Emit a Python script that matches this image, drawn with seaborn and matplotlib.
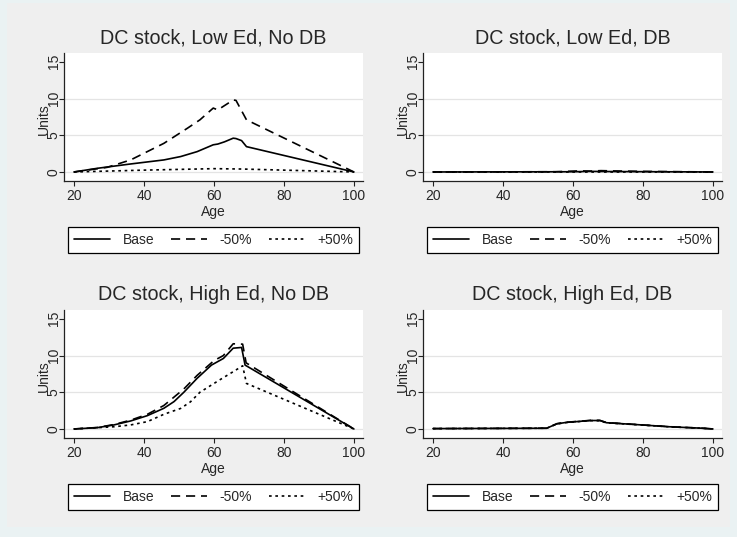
import matplotlib
matplotlib.use("Agg")
import matplotlib.pyplot as plt
import seaborn as sns
import pandas as pd

# ---- data: DC stock by age for three scenarios ----
series_names = ["Base", "-50%", "+50%"]
panel_titles = [
    "DC stock, Low Ed, No DB",
    "DC stock, Low Ed, DB",
    "DC stock, High Ed, No DB",
    "DC stock, High Ed, DB",
]

# Low Ed, No DB
low_nodb_base_age = [20, 26.7, 36.2, 45.7, 50.5, 55.2, 59.8, 61.1, 63, 65.5, 66.3, 67.9, 69.3, 100]
low_nodb_base_val = [0, 0.5, 1.09, 1.64, 2.1, 2.77, 3.7, 3.8, 4.1, 4.6, 4.55, 4.27, 3.45, 0]
low_nodb_m50_age = [20, 29.5, 36.2, 45.7, 52.4, 56, 59.8, 61.1, 65.5, 66.3, 69.3, 100]
low_nodb_m50_val = [0, 0.63, 1.64, 3.9, 5.95, 7.1, 8.7, 8.45, 9.8, 9.75, 7.1, 0]
low_nodb_p50_age = [20, 40, 60, 68, 100]
low_nodb_p50_val = [0, 0.25, 0.45, 0.4, 0]

# Low Ed, DB
low_db_base_age = [20, 60, 65, 70, 100]
low_db_base_val = [0, 0.03, 0.08, 0.06, 0]
low_db_m50_age = [20, 55, 62, 65, 68, 72, 80, 100]
low_db_m50_val = [0, 0.03, 0.15, 0.12, 0.18, 0.14, 0.08, 0]
low_db_p50_age = [20, 100]
low_db_p50_val = [0, 0]

# High Ed, No DB
high_nodb_base_age = [20, 26.7, 31.4, 36.2, 41, 45.7, 48.6, 51.4, 55.2, 59.3, 62.7, 65.5, 67.9, 68.9, 100]
high_nodb_base_val = [0, 0.18, 0.55, 1.09, 1.82, 2.82, 3.73, 5.0, 6.9, 8.7, 9.6, 11.0, 11.1, 8.7, 0]
high_nodb_m50_age = [20, 26.7, 31.4, 36.2, 41, 45.7, 51.4, 55.2, 60, 62.7, 65.5, 68.2, 69.2, 100]
high_nodb_m50_val = [0, 0.2, 0.6, 1.2, 2.0, 3.2, 5.45, 7.3, 9.3, 10.0, 11.6, 11.55, 9.0, 0]
high_nodb_p50_age = [20, 31.4, 36.2, 41, 45.7, 50.5, 53.3, 56, 61.7, 65.5, 68.2, 69.3, 100]
high_nodb_p50_val = [0, 0.3, 0.55, 1.0, 2.0, 2.8, 3.7, 5.0, 6.7, 7.8, 8.6, 6.2, 0]

# High Ed, DB
high_db_age = [20, 52.5, 55.4, 58.2, 61, 65, 67.7, 69.6, 78, 87.6, 97, 100]
high_db_base_val = [0.05, 0.1, 0.7, 0.9, 1.0, 1.15, 1.15, 0.85, 0.6, 0.3, 0.1, 0]
high_db_m50_val = [0.05, 0.1, 0.72, 0.92, 1.02, 1.17, 1.17, 0.87, 0.61, 0.31, 0.1, 0]
high_db_p50_val = [0.05, 0.1, 0.68, 0.88, 0.98, 1.13, 1.13, 0.83, 0.59, 0.29, 0.1, 0]

panels = [
    [(low_nodb_base_age, low_nodb_base_val), (low_nodb_m50_age, low_nodb_m50_val), (low_nodb_p50_age, low_nodb_p50_val)],
    [(low_db_base_age, low_db_base_val), (low_db_m50_age, low_db_m50_val), (low_db_p50_age, low_db_p50_val)],
    [(high_nodb_base_age, high_nodb_base_val), (high_nodb_m50_age, high_nodb_m50_val), (high_nodb_p50_age, high_nodb_p50_val)],
    [(high_db_age, high_db_base_val), (high_db_age, high_db_m50_val), (high_db_age, high_db_p50_val)],
]

x_ticks = [20, 40, 60, 80, 100]
y_ticks = [0, 5, 10, 15]

# ---- styling ----
sns.set_theme(style="white")
plt.rcParams["font.family"] = ["Liberation Sans", "DejaVu Sans"]
small = 10
line_styles = ["-", (0, (5.5, 3.5)), (0, (1.6, 2.2))]

W, H = 737, 537
fig = plt.figure(figsize=(W / 100, H / 100), dpi=100)
fig.patch.set_facecolor("#EAF2F3")

# gray graph region inside a thin bluish margin
bg = fig.add_axes([7 / W, 1 - 527 / H, 723 / W, 524 / H], zorder=-10)
bg.set_facecolor("#EFEFEF")
bg.set_xticks([])
bg.set_yticks([])
for s in bg.spines.values():
    s.set_visible(False)

lefts = [64, 423]
tops = [53, 310]
aw, ah = 299, 128

for i, (title, series) in enumerate(zip(panel_titles, panels)):
    r, c = divmod(i, 2)
    ax = fig.add_axes([lefts[c] / W, 1 - (tops[r] + ah) / H, aw / W, ah / H])
    ax.set_facecolor("white")
    for yv in [0, 5, 10]:
        ax.axhline(yv, color="#E4E4E4", lw=0.9, zorder=0)
    for name, (ages, vals), ls in zip(series_names, series, line_styles):
        df = pd.DataFrame({"Age": ages, "Units": vals})
        sns.lineplot(data=df, x="Age", y="Units", ax=ax, color="black",
                     linestyle=ls, lw=1.2, label=name, sort=False)
    ax.set_xlim(17.15, 102.6)
    ax.set_ylim(-1.23, 16.2)
    ax.set_xticks(x_ticks)
    ax.set_yticks(y_ticks)
    ax.set_yticklabels([str(v) for v in y_ticks], rotation=90, va="center")
    ax.tick_params(axis="both", which="major", length=3.5, width=0.8,
                   color="#222222", labelsize=small, direction="out",
                   left=True, bottom=True)
    ax.tick_params(axis="x", pad=2.5)
    ax.tick_params(axis="y", pad=-1.2)
    for side in ["top", "right"]:
        ax.spines[side].set_visible(False)
    for side in ["left", "bottom"]:
        ax.spines[side].set_color("#222222")
        ax.spines[side].set_linewidth(0.9)
    ax.set_title(title, fontsize=14.2, y=1.076, pad=0)
    ax.set_xlabel("Age", fontsize=small, va="center")
    ax.xaxis.set_label_coords(0.5, -0.245)
    ax.set_ylabel("Units", fontsize=small, va="center")
    ax.yaxis.set_label_coords(-0.066, 0.48)
    leg = ax.legend(loc="center", bbox_to_anchor=(0.5, -0.46), ncol=3,
                    fontsize=small, frameon=True, fancybox=False,
                    handlelength=2.6, handletextpad=0.9, columnspacing=1.2,
                    borderpad=0.45)
    leg.get_frame().set_edgecolor("black")
    leg.get_frame().set_linewidth(0.9)
    leg.get_frame().set_facecolor("white")
    leg.get_frame().set_alpha(1)

fig.savefig("out.png", dpi=100, facecolor=fig.get_facecolor())
